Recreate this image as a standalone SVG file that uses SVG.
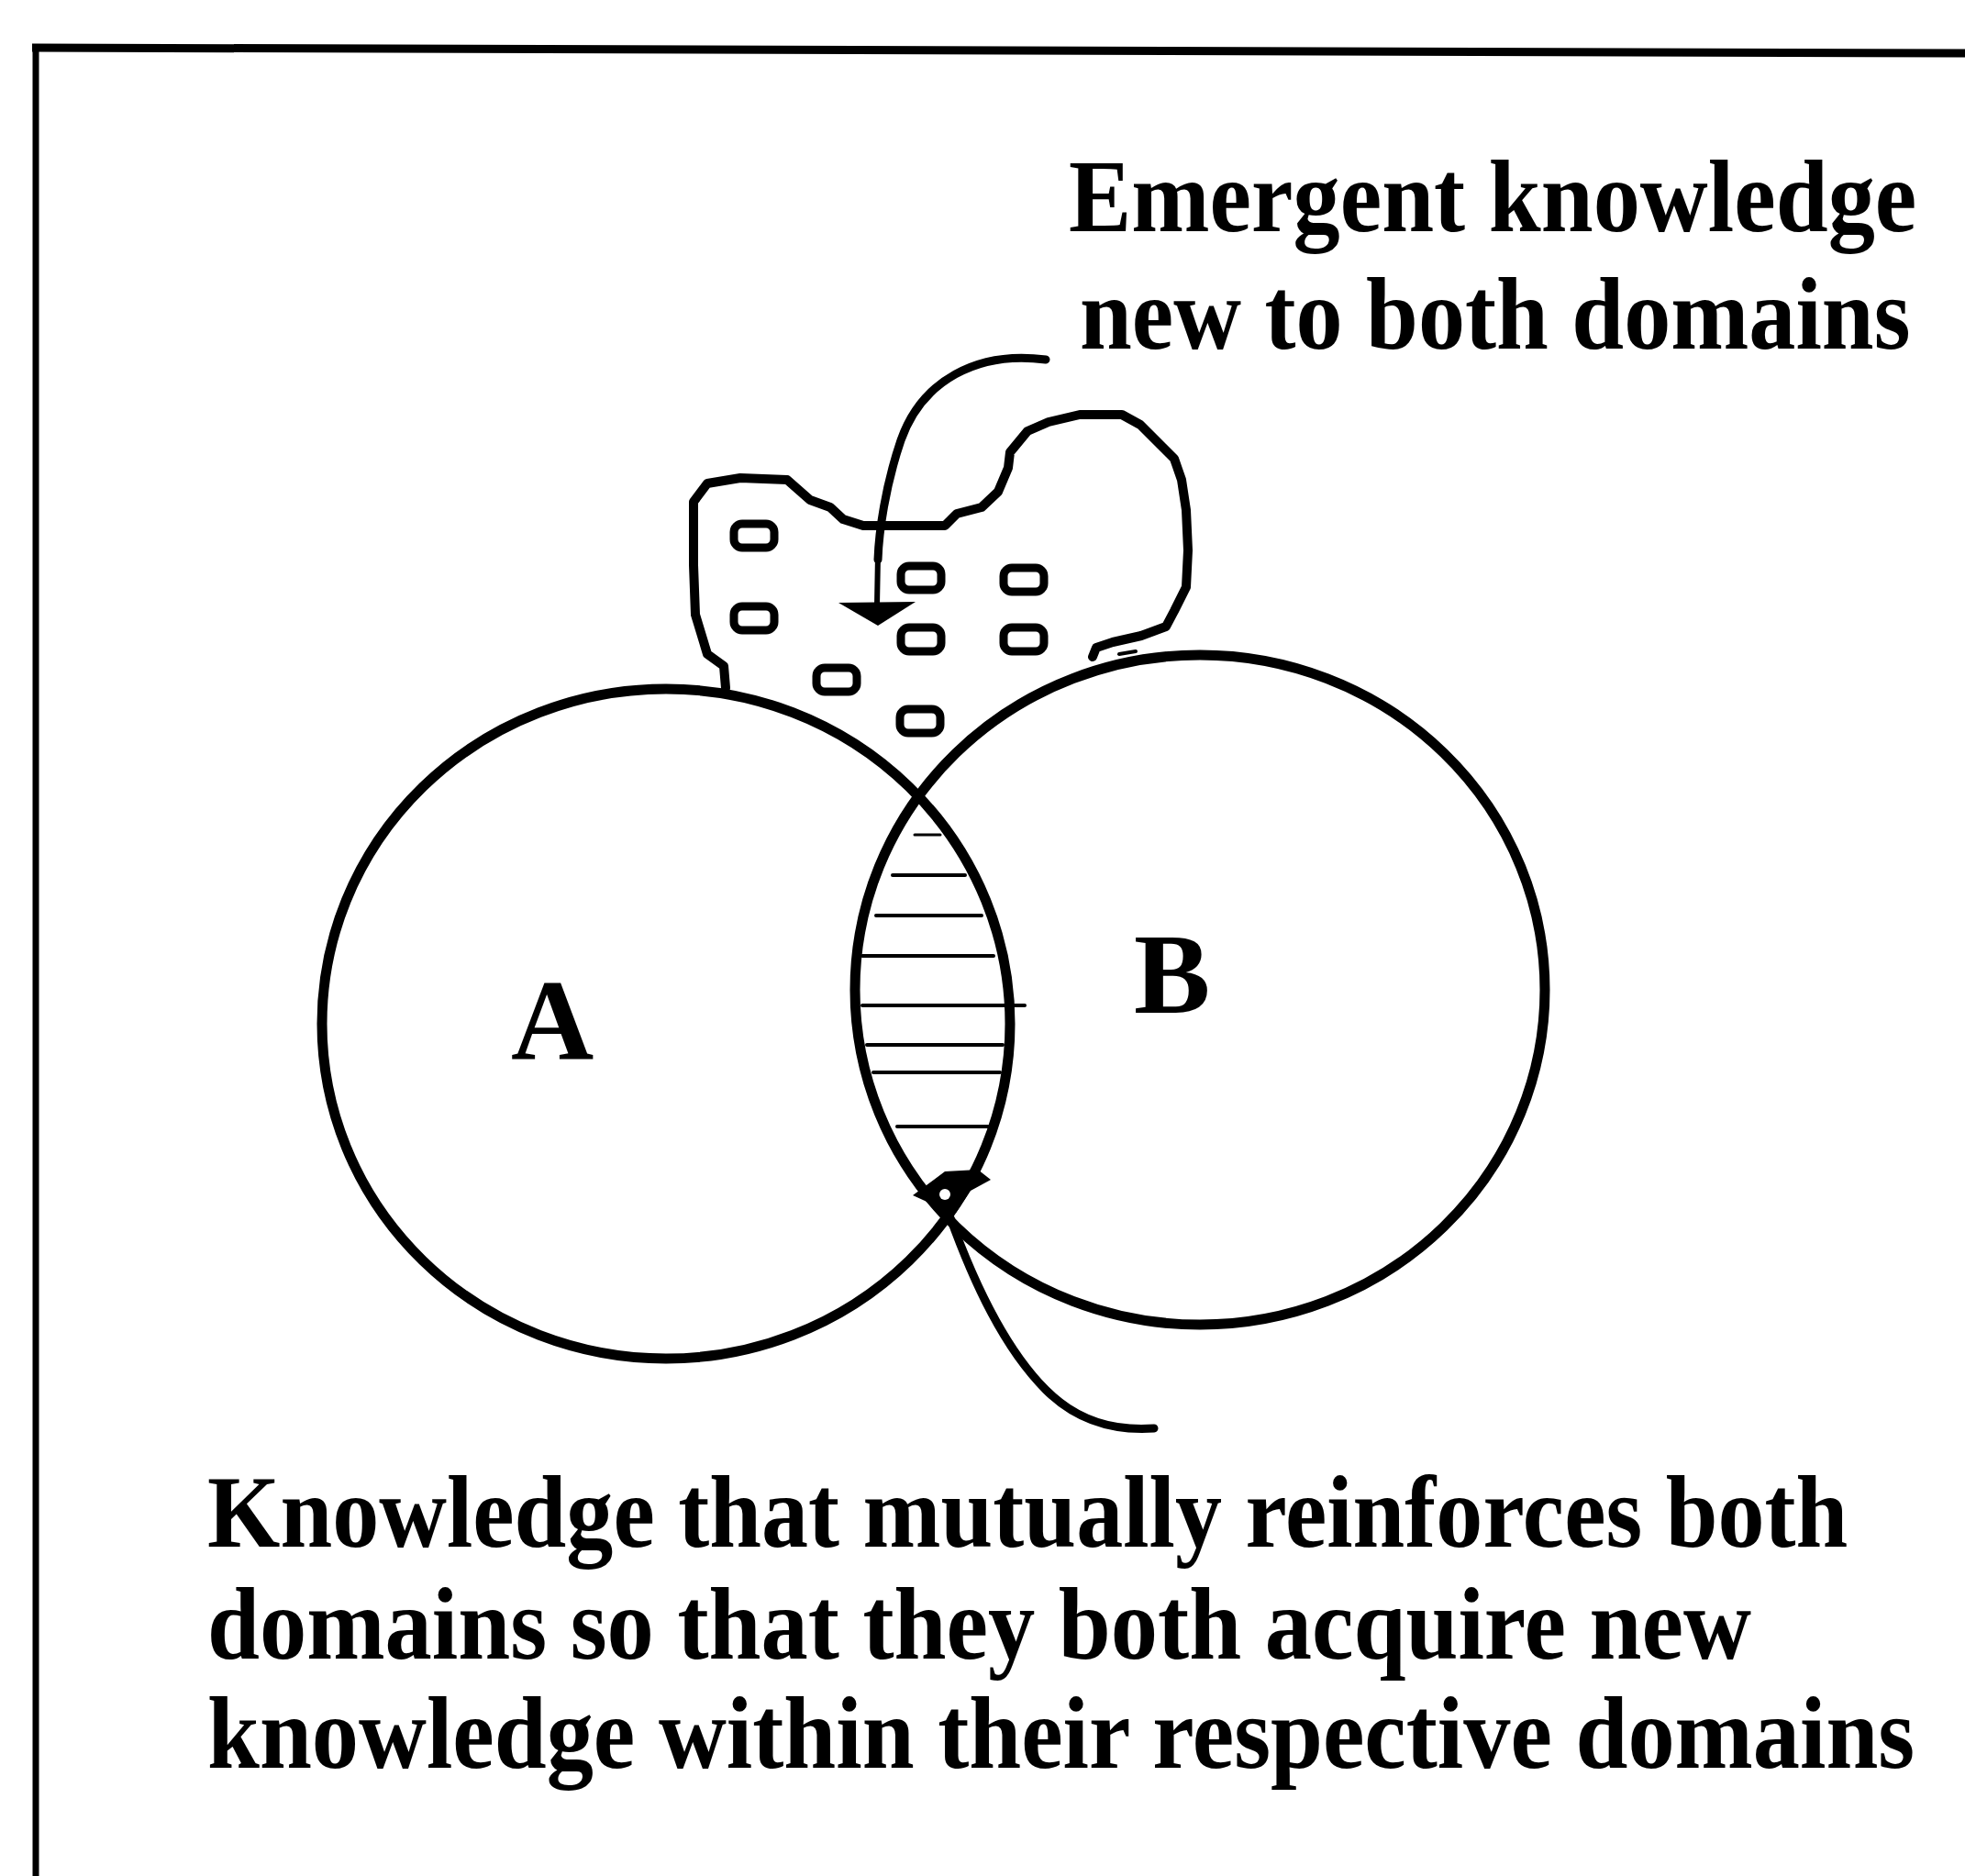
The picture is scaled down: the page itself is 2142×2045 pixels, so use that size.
<svg xmlns="http://www.w3.org/2000/svg" width="2142" height="2045" viewBox="0 0 2142 2045">
<style>
.ln{fill:none;stroke:#000;stroke-linecap:round;stroke-linejoin:round}
.c{stroke-width:11}
.h{stroke-width:4}
.box{fill:none;stroke:#000;stroke-width:9}
.t{font-family:"Liberation Serif","Times New Roman",serif;font-weight:bold;fill:#000}
</style>
<rect x="0" y="0" width="2142" height="2045" fill="#fff"/>
<g id="frame">
<line class="ln" x1="39" y1="50" x2="39" y2="2045" style="stroke-width:7;stroke-linecap:butt"/>
<line class="ln" x1="35" y1="52" x2="2142" y2="58" style="stroke-width:9;stroke-linecap:butt"/>
</g>
<g id="domain-A">
<ellipse class="ln c" cx="726" cy="1116" rx="375" ry="365"/>
<text class="t" x="557" y="1154" font-size="125">A</text>
</g>
<g id="domain-B">
<ellipse class="ln c" cx="1308" cy="1079" rx="376" ry="365"/>
<text class="t" x="1236" y="1104" font-size="125">B</text>
</g>
<g id="overlap-hatching">
<line class="ln h" x1="997" y1="910" x2="1025" y2="910" style="stroke-width:3"/>
<line class="ln h" x1="973" y1="954" x2="1052" y2="954"/>
<line class="ln h" x1="955" y1="998" x2="1070" y2="998"/>
<line class="ln h" x1="940" y1="1042" x2="1083" y2="1042"/>
<line class="ln h" x1="940" y1="1096" x2="1117" y2="1096"/>
<line class="ln h" x1="945" y1="1139" x2="1093" y2="1139"/>
<line class="ln h" x1="952" y1="1169" x2="1090" y2="1169"/>
<line class="ln h" x1="978" y1="1228" x2="1077" y2="1228"/>
</g>
<g id="emergent-region">
<polyline class="ln" style="stroke-width:10" points="791,750 789,726 771,713 758,670 756,616 756,547 771,527 807,521 858,523 883,545 905,553 919,566 941,573 1030,573 1043,560 1070,553 1088,536 1099,510 1101,493 1120,470 1143,460 1177,452 1223,452 1243,463 1263,483 1280,500 1288,523 1293,556 1295,600 1293,640 1280,666 1271,683 1244,693 1213,700 1195,706 1191,716"/>
<line class="ln" x1="1220" y1="713" x2="1238" y2="710" style="stroke-width:4"/>
<rect class="box" x="800" y="571" width="44" height="26" rx="9"/>
<rect class="box" x="982" y="617" width="44" height="26" rx="9"/>
<rect class="box" x="1094" y="619" width="44" height="26" rx="9"/>
<rect class="box" x="800" y="661" width="44" height="26" rx="9"/>
<rect class="box" x="982" y="684" width="44" height="26" rx="9"/>
<rect class="box" x="1094" y="684" width="44" height="26" rx="9"/>
<rect class="box" x="890" y="728" width="44" height="26" rx="9"/>
<rect class="box" x="981" y="773" width="44" height="26" rx="9"/>
</g>
<g id="connectors">
<path class="ln" style="stroke-width:9" d="M1140,392 C1065,382 1005,415 982,480 C965,530 958,580 957,610"/>
<path class="ln" style="stroke-width:6" d="M957,605 L956,660"/>
<polygon points="914,657 998,656 957,682" fill="#000"/>
<path class="ln" style="stroke-width:9" d="M1035,1325 C1062,1400 1095,1470 1140,1515 C1175,1550 1215,1560 1258,1557"/>
<path d="M995,1303 L1030,1277 L1066,1275 L1080,1286 L1058,1298 L1042,1322 L1028,1318 Z" fill="#000"/>
<circle cx="1030" cy="1302" r="6" fill="#fff"/>
</g>
<g id="label-emergent">
<text class="t" transform="translate(1165,252) scale(0.9,1)" x="0" y="0" font-size="112" textLength="1027" lengthAdjust="spacingAndGlyphs">Emergent knowledge</text>
<text class="t" transform="translate(1177,380) scale(0.9,1)" x="0" y="0" font-size="112" textLength="1006" lengthAdjust="spacingAndGlyphs">new to both domains</text>
</g>
<g id="label-reinforce">
<text class="t" transform="translate(226,1686) scale(0.9,1)" x="0" y="0" font-size="112" textLength="1987" lengthAdjust="spacingAndGlyphs">Knowledge that mutually reinforces both</text>
<text class="t" transform="translate(226,1808) scale(0.9,1)" x="0" y="0" font-size="112" textLength="1870" lengthAdjust="spacingAndGlyphs">domains so that they both acquire new</text>
<text class="t" transform="translate(226,1927) scale(0.9,1)" x="0" y="0" font-size="112" textLength="2068" lengthAdjust="spacingAndGlyphs">knowledge within their respective domains</text>
</g>
</svg>
